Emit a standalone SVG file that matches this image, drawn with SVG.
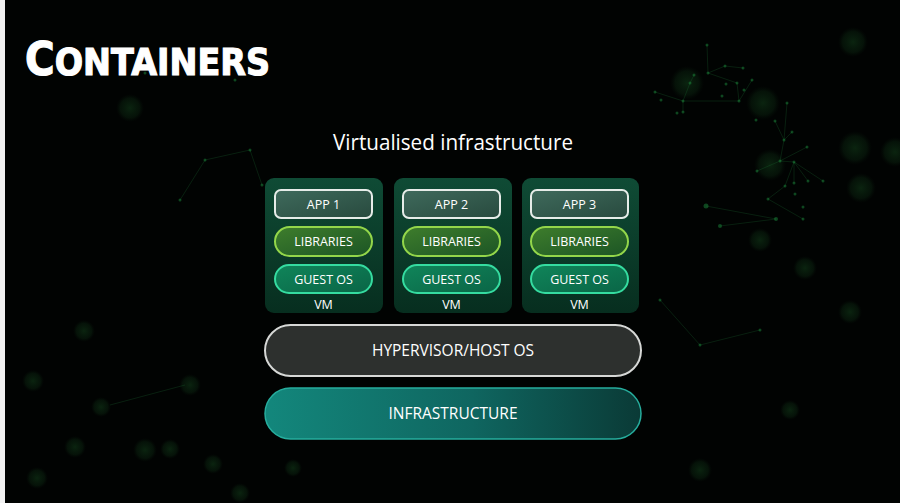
<svg xmlns="http://www.w3.org/2000/svg" width="900" height="503" viewBox="0 0 900 503">
  <style>
    .lbl { font-family: "Open Sans", "Liberation Sans", sans-serif; fill: #ffffff; text-anchor: middle; }
    .pill { font-size: 12.5px; }
    .bar { font-size: 15.5px; }
    .net line { stroke: #1f7a3a; stroke-width: 0.8; opacity: 0.3; }
    .net circle { fill: #1c8a3c; opacity: 0.5; }
    .bokeh circle { fill: url(#bokeh); }
  </style>
  <defs>
    <radialGradient id="bokeh">
      <stop offset="0" stop-color="#1f6a2c" stop-opacity="0.32"/>
      <stop offset="0.7" stop-color="#174f22" stop-opacity="0.2"/>
      <stop offset="1" stop-color="#0c2c12" stop-opacity="0"/>
    </radialGradient>
    <linearGradient id="vmFill" x1="0" y1="0" x2="0" y2="1">
      <stop offset="0" stop-color="#0f4b35"/>
      <stop offset="1" stop-color="#072e1f"/>
    </linearGradient>
    <linearGradient id="appFill" x1="0" y1="0" x2="1" y2="1">
      <stop offset="0" stop-color="#3f6a5c"/>
      <stop offset="1" stop-color="#284a3e"/>
    </linearGradient>
    <linearGradient id="libFill" x1="0" y1="0" x2="1" y2="1">
      <stop offset="0" stop-color="#3e7d2c"/>
      <stop offset="1" stop-color="#1c5525"/>
    </linearGradient>
    <linearGradient id="osFill" x1="0" y1="0" x2="1" y2="1">
      <stop offset="0" stop-color="#10855a"/>
      <stop offset="1" stop-color="#0a6546"/>
    </linearGradient>
    <linearGradient id="infraFill" x1="0" y1="0" x2="1" y2="0">
      <stop offset="0" stop-color="#13877c"/>
      <stop offset="0.55" stop-color="#0f6660"/>
      <stop offset="1" stop-color="#0a3a36"/>
    </linearGradient>
  </defs>

  <!-- backdrop -->
  <rect x="0" y="0" width="900" height="503" fill="#010302"/>
  <rect x="0" y="0" width="5" height="503" fill="#f2f2f2"/>

  <!-- soft glowing spots -->
  <g class="bokeh">
    <circle cx="687" cy="83" r="17"/>
    <circle cx="763" cy="103" r="17"/>
    <circle cx="770" cy="165" r="16"/>
    <circle cx="855" cy="148" r="17"/>
    <circle cx="861" cy="188" r="15"/>
    <circle cx="895" cy="152" r="15"/>
    <circle cx="853" cy="42" r="15"/>
    <circle cx="130" cy="108" r="14"/>
    <circle cx="760" cy="240" r="12"/>
    <circle cx="805" cy="268" r="12"/>
    <circle cx="850" cy="312" r="12"/>
    <circle cx="84" cy="331" r="11"/>
    <circle cx="33" cy="381" r="11"/>
    <circle cx="101" cy="407" r="10"/>
    <circle cx="190" cy="385" r="11"/>
    <circle cx="75" cy="447" r="11"/>
    <circle cx="145" cy="450" r="12"/>
    <circle cx="170" cy="449" r="10"/>
    <circle cx="213" cy="464" r="10"/>
    <circle cx="37" cy="478" r="11"/>
    <circle cx="240" cy="493" r="10"/>
    <circle cx="293" cy="468" r="9"/>
    <circle cx="700" cy="470" r="12"/>
    <circle cx="790" cy="410" r="10"/>
  </g>

  <!-- faint particle network -->
  <g class="net">
    <line x1="707" y1="45" x2="708" y2="73"/>
    <line x1="708" y1="73" x2="725" y2="66"/>
    <line x1="725" y1="66" x2="743" y2="68"/>
    <line x1="708" y1="73" x2="737" y2="83"/>
    <line x1="737" y1="83" x2="739" y2="101"/>
    <line x1="694" y1="75" x2="690" y2="83"/>
    <line x1="690" y1="83" x2="683" y2="101"/>
    <line x1="683" y1="101" x2="739" y2="101"/>
    <line x1="683" y1="101" x2="683" y2="112"/>
    <line x1="655" y1="92" x2="683" y2="101"/>
    <line x1="739" y1="101" x2="752" y2="80"/>
    <line x1="787" y1="103" x2="784" y2="140"/>
    <line x1="775" y1="121" x2="784" y2="140"/>
    <line x1="784" y1="140" x2="792" y2="132"/>
    <line x1="784" y1="140" x2="780" y2="161"/>
    <line x1="780" y1="161" x2="807" y2="147"/>
    <line x1="780" y1="161" x2="794" y2="162"/>
    <line x1="794" y1="162" x2="823" y2="181"/>
    <line x1="794" y1="162" x2="785" y2="186"/>
    <line x1="785" y1="186" x2="768" y2="199"/>
    <line x1="768" y1="199" x2="803" y2="219"/>
    <line x1="706" y1="206" x2="776" y2="219"/>
    <line x1="776" y1="219" x2="720" y2="226"/>
    <line x1="757" y1="171" x2="780" y2="161"/>
    <line x1="794" y1="162" x2="794" y2="183"/>
    <line x1="808" y1="181" x2="794" y2="162"/>
    <line x1="205" y1="160" x2="250" y2="150"/>
    <line x1="250" y1="150" x2="262" y2="185"/>
    <line x1="205" y1="160" x2="180" y2="200"/>
    <line x1="660" y1="300" x2="700" y2="345"/>
    <line x1="700" y1="345" x2="760" y2="330"/>
    <line x1="110" y1="405" x2="185" y2="385"/>
    <circle cx="707" cy="45" r="1.5"/>
    <circle cx="708" cy="73" r="1.5"/>
    <circle cx="725" cy="66" r="1.5"/>
    <circle cx="743" cy="68" r="1.5"/>
    <circle cx="737" cy="83" r="1.5"/>
    <circle cx="694" cy="75" r="1.5"/>
    <circle cx="690" cy="83" r="1.5"/>
    <circle cx="726" cy="84" r="1.5"/>
    <circle cx="752" cy="80" r="1.5"/>
    <circle cx="744" cy="90" r="1.5"/>
    <circle cx="739" cy="101" r="1.5"/>
    <circle cx="722" cy="96" r="1.5"/>
    <circle cx="683" cy="101" r="1.5"/>
    <circle cx="655" cy="92" r="1.5"/>
    <circle cx="661" cy="100" r="1.5"/>
    <circle cx="683" cy="112" r="1.5"/>
    <circle cx="677" cy="113" r="1.5"/>
    <circle cx="787" cy="103" r="1.5"/>
    <circle cx="756" cy="120" r="1.5"/>
    <circle cx="775" cy="121" r="1.5"/>
    <circle cx="784" cy="140" r="1.5"/>
    <circle cx="792" cy="132" r="1.5"/>
    <circle cx="807" cy="147" r="1.5"/>
    <circle cx="780" cy="161" r="1.5"/>
    <circle cx="794" cy="162" r="1.5"/>
    <circle cx="794" cy="183" r="1.5"/>
    <circle cx="757" cy="171" r="1.5"/>
    <circle cx="823" cy="181" r="1.5"/>
    <circle cx="785" cy="186" r="1.5"/>
    <circle cx="808" cy="181" r="1.5"/>
    <circle cx="795" cy="194" r="1.5"/>
    <circle cx="768" cy="199" r="1.5"/>
    <circle cx="803" cy="207" r="1.5"/>
    <circle cx="803" cy="219" r="1.5"/>
    <circle cx="706" cy="206" r="2.5"/>
    <circle cx="776" cy="219" r="2"/>
    <circle cx="720" cy="226" r="2"/>
    <circle cx="205" cy="160" r="1.5"/>
    <circle cx="250" cy="150" r="1.5"/>
    <circle cx="262" cy="185" r="1.5"/>
    <circle cx="180" cy="200" r="1.5"/>
    <circle cx="145" cy="73" r="1.5"/>
    <circle cx="186" cy="70" r="1.5"/>
    <circle cx="235" cy="80" r="1.5"/>
    <circle cx="660" cy="300" r="1.5"/>
    <circle cx="700" cy="345" r="1.5"/>
    <circle cx="760" cy="330" r="1.5"/>
  </g>

  <!-- heading -->
  <g id="title">
    <text x="25" y="75" font-family="'DejaVu Sans', 'Liberation Sans', sans-serif" font-weight="bold" fill="#ffffff" stroke="#ffffff" stroke-width="1.2" textLength="245" lengthAdjust="spacingAndGlyphs"><tspan font-size="46">C</tspan><tspan font-size="38">ONTAINERS</tspan></text>
  </g>

  <g id="subtitle">
    <text x="453" y="150" class="lbl" font-size="21" textLength="240" lengthAdjust="spacingAndGlyphs">Virtualised infrastructure</text>
  </g>

  <!-- virtual machines -->
  <g id="vm1">
    <rect x="265" y="178" width="118" height="135" rx="9" fill="url(#vmFill)"/>
    <g id="vm1-app">
      <rect x="275" y="190" width="97" height="28" rx="6" fill="url(#appFill)" stroke="#e6ece8" stroke-width="2"/>
      <text x="323.5" y="209" class="lbl pill">APP 1</text>
    </g>
    <g id="vm1-libs">
      <rect x="275" y="227" width="97" height="29" rx="14.5" fill="url(#libFill)" stroke="#93d64a" stroke-width="2"/>
      <text x="323.5" y="246" class="lbl pill">LIBRARIES</text>
    </g>
    <g id="vm1-os">
      <rect x="275" y="265" width="97" height="28" rx="14" fill="url(#osFill)" stroke="#35dca0" stroke-width="2"/>
      <text x="323.5" y="284" class="lbl pill">GUEST OS</text>
    </g>
    <text x="323.5" y="309" class="lbl pill" font-size="12.5">VM</text>
  </g>

  <g id="vm2">
    <rect x="394" y="178" width="118" height="135" rx="9" fill="url(#vmFill)"/>
    <g id="vm2-app">
      <rect x="403" y="190" width="97" height="28" rx="6" fill="url(#appFill)" stroke="#e6ece8" stroke-width="2"/>
      <text x="451.5" y="209" class="lbl pill">APP 2</text>
    </g>
    <g id="vm2-libs">
      <rect x="403" y="227" width="97" height="29" rx="14.5" fill="url(#libFill)" stroke="#93d64a" stroke-width="2"/>
      <text x="451.5" y="246" class="lbl pill">LIBRARIES</text>
    </g>
    <g id="vm2-os">
      <rect x="403" y="265" width="97" height="28" rx="14" fill="url(#osFill)" stroke="#35dca0" stroke-width="2"/>
      <text x="451.5" y="284" class="lbl pill">GUEST OS</text>
    </g>
    <text x="451.5" y="309" class="lbl pill" font-size="12.5">VM</text>
  </g>

  <g id="vm3">
    <rect x="522" y="178" width="117" height="135" rx="9" fill="url(#vmFill)"/>
    <g id="vm3-app">
      <rect x="531" y="190" width="97" height="28" rx="6" fill="url(#appFill)" stroke="#e6ece8" stroke-width="2"/>
      <text x="579.5" y="209" class="lbl pill">APP 3</text>
    </g>
    <g id="vm3-libs">
      <rect x="531" y="227" width="97" height="29" rx="14.5" fill="url(#libFill)" stroke="#93d64a" stroke-width="2"/>
      <text x="579.5" y="246" class="lbl pill">LIBRARIES</text>
    </g>
    <g id="vm3-os">
      <rect x="531" y="265" width="97" height="28" rx="14" fill="url(#osFill)" stroke="#35dca0" stroke-width="2"/>
      <text x="579.5" y="284" class="lbl pill">GUEST OS</text>
    </g>
    <text x="579.5" y="309" class="lbl pill" font-size="12.5">VM</text>
  </g>

  <!-- shared layers -->
  <g id="hypervisor">
    <rect x="265" y="325" width="376" height="51" rx="25.5" fill="#2d302e" stroke="#d6d8d6" stroke-width="2"/>
    <text x="453" y="356" class="lbl bar">HYPERVISOR/HOST OS</text>
  </g>

  <g id="infrastructure">
    <rect x="265" y="388" width="376" height="51" rx="25.5" fill="url(#infraFill)" stroke="#26ad9d" stroke-width="1.5"/>
    <text x="453" y="419" class="lbl bar">INFRASTRUCTURE</text>
  </g>

  <g id="connectors"/>
</svg>
